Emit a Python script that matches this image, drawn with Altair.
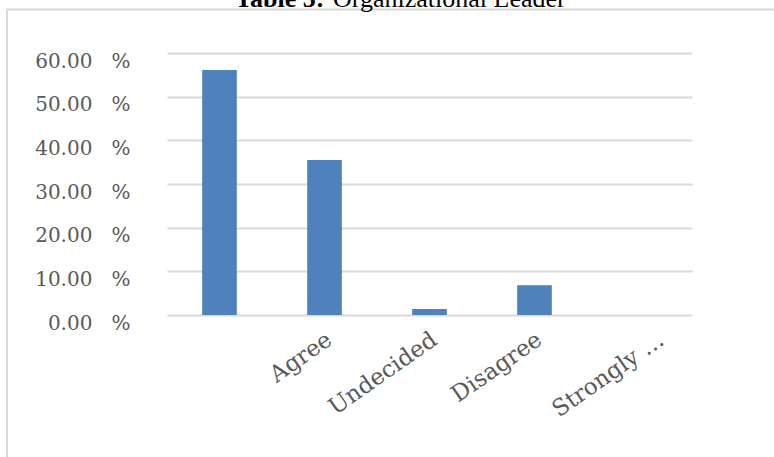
import altair as alt
import pandas as pd

# Survey responses for "Organizational Leader" (percent of respondents)
categories = ["Strongly Agree", "Agree", "Undecided", "Disagree", "Strongly Disagree"]
tick_labels = ["", "Agree", "Undecided", "Disagree", "Strongly \u2026"]
percentages = [56.1, 35.5, 1.4, 6.8, 0.0]
y_ticks = [0, 10, 20, 30, 40, 50, 60]

df = pd.DataFrame({"response": categories, "percent": percentages})

# map each category to the text shown under its bar
label_map = "{" + ", ".join(f"'{c}': '{t}'" for c, t in zip(categories, tick_labels)) + "}"
label_expr = f"{label_map}[datum.value]"

W, H = 525, 262
PAD_L, PAD_T = 167, 53

grey_text = "#595959"
grid_grey = "#d9d9d9"
serif = "DejaVu Serif"

bars = alt.Chart(df).mark_bar(color="#4f81bd").encode(
    x=alt.X(
        "response:N",
        sort=categories,
        title=None,
        scale=alt.Scale(paddingInner=0.67, paddingOuter=0.335),
        axis=alt.Axis(
            labelExpr=label_expr,
            labelAngle=325,
            labelAlign="right",
            labelBaseline="middle",
            labelFont=serif,
            labelFontSize=23,
            labelColor=grey_text,
            labelPadding=22,
            labelOffset={
                "condition": {"test": "datum.value == 'Strongly Disagree'", "value": 22},
                "value": 5,
            },
            ticks=False,
            domain=False,
            grid=False,
        ),
    ),
    y=alt.Y(
        "percent:Q",
        title=None,
        scale=alt.Scale(domain=[0, 60], nice=False),
        axis=alt.Axis(
            values=y_ticks,
            labelExpr="format(datum.value, '.2f') + '\u00a0\u00a0\u00a0%'",
            labelFont=serif,
            labelFontSize=20,
            labelColor=grey_text,
            labelBaseline="alphabetic",
            labelOffset=14,
            labelPadding=37,
            ticks=False,
            domain=False,
            grid=True,
            gridColor=grid_grey,
            gridWidth=2,
        ),
    ),
)

one_row = alt.Data(values=[{"k": 1}])

# light outer frame of the chart box
frame = alt.Chart(one_row).mark_rect(
    filled=False, stroke=grid_grey, strokeWidth=2
).encode(
    x=alt.value(7 - PAD_L),
    x2=alt.value(1000),
    y=alt.value(9.5 - PAD_T),
    y2=alt.value(1000),
)

title_bold = alt.Chart(one_row).mark_text(
    text="Table 5:", font="Liberation Serif", fontSize=26, fontWeight="bold",
    align="left", baseline="alphabetic", color="black",
).encode(x=alt.value(235 - PAD_L), y=alt.value(7 - PAD_T))

title_plain = alt.Chart(one_row).mark_text(
    text="Organizational Leader", font="Liberation Serif", fontSize=26,
    align="left", baseline="alphabetic", color="black",
).encode(x=alt.value(333 - PAD_L), y=alt.value(7 - PAD_T))

chart = alt.layer(frame, bars, title_bold, title_plain).properties(
    width=W,
    height=H,
    autosize=alt.AutoSizeParams(type="none"),
    padding={"left": PAD_L, "top": PAD_T, "right": 774 - PAD_L - W, "bottom": 457 - PAD_T - H},
    background="white",
).configure_view(stroke=None)

chart.save("out.html", embed_options={"renderer": "svg", "actions": False})
